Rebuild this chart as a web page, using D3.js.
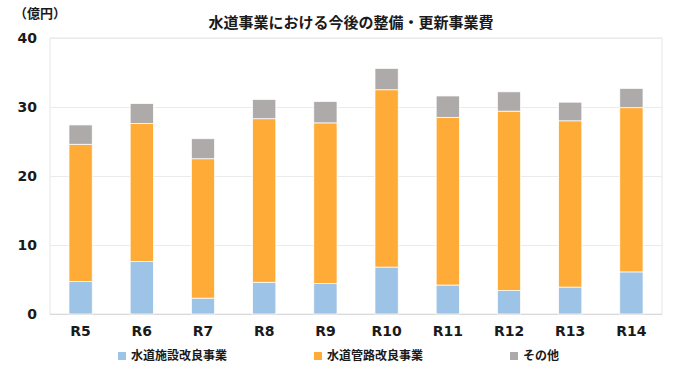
<!DOCTYPE html>
<html lang="ja">
<head>
    <meta charset="UTF-8">
    <title>水道事業における今後の整備・更新事業費</title>
    <style>
        body { margin: 0; background: #fff; }
        text { font-family: "Noto Sans CJK JP", sans-serif; fill: #1a1a1a; }
        .tick text { font-family: "DejaVu Sans", sans-serif; font-weight: bold; font-size: 14px; }
        .tick line, .domain { display: none; }
        .title { font-size: 15px; font-weight: bold; }
        .unit { font-size: 13px; font-weight: bold; }
        .legend text { font-size: 12px; font-weight: bold; }
    </style>
</head>
<body>
    <svg width="690" height="377"></svg>

    <script src="https://d3js.org/d3.v7.min.js"></script>
    <script>

        // Data (億円)
        const years = ['R5', 'R6', 'R7', 'R8', 'R9', 'R10', 'R11', 'R12', 'R13', 'R14'];
        const facility = [4.7, 7.6, 2.3, 4.6, 4.4, 6.8, 4.2, 3.4, 3.9, 6.1];
        const pipeline = [19.9, 20.0, 20.2, 23.7, 23.3, 25.7, 24.3, 26.0, 24.1, 23.8];
        const others = [2.8, 2.9, 2.9, 2.8, 3.1, 3.1, 3.1, 2.8, 2.7, 2.8];
        const yTicks = [0, 10, 20, 30, 40];

        const seriesNames = ['水道施設改良事業', '水道管路改良事業', 'その他'];
        const seriesColors = ['#9DC3E6', '#FFAB38', '#AEAAAA'];

        const svg = d3.select('svg');
        const plot = { left: 50, right: 662, top: 38, bottom: 314 };

        const rows = years.map(function (y, i) {
            return { year: y, s0: facility[i], s1: pipeline[i], s2: others[i] };
        });

        const stack = d3.stack().keys(['s0', 's1', 's2']);
        const layers = stack(rows);

        const x = d3.scaleBand()
            .domain(years)
            .range([plot.left, plot.right])
            .paddingInner(0.62)
            .paddingOuter(0.31);

        const y = d3.scaleLinear()
            .domain([0, 40])
            .range([plot.bottom, plot.top]);

        // plot area frame
        svg.append('rect')
            .attr('x', plot.left)
            .attr('y', plot.top)
            .attr('width', plot.right - plot.left)
            .attr('height', plot.bottom - plot.top)
            .attr('fill', 'none')
            .attr('stroke', '#E6E6E6');

        // gridlines
        svg.append('g')
            .selectAll('line')
            .data(yTicks)
            .join('line')
            .attr('x1', plot.left)
            .attr('x2', plot.right)
            .attr('y1', function (d) { return y(d) + 0.5; })
            .attr('y2', function (d) { return y(d) + 0.5; })
            .attr('stroke', function (d) { return d === 0 ? '#D9D9D9' : '#EBEBEB'; });

        // y axis labels
        svg.append('g')
            .attr('transform', 'translate(' + (plot.left - 13) + ',0)')
            .call(d3.axisLeft(y).tickValues(yTicks).tickSize(0).tickPadding(0));

        // x axis labels
        svg.append('g')
            .attr('transform', 'translate(0,' + (plot.bottom + 12) + ')')
            .call(d3.axisBottom(x).tickSize(0).tickPadding(0));

        // stacked bars
        svg.append('g')
            .selectAll('g')
            .data(layers)
            .join('g')
            .attr('fill', function (d, i) { return seriesColors[i]; })
            .selectAll('rect')
            .data(function (d) { return d; })
            .join('rect')
            .attr('x', function (d) { return x(d.data.year); })
            .attr('y', function (d) { return y(d[1]); })
            .attr('width', x.bandwidth())
            .attr('height', function (d) { return y(d[0]) - y(d[1]); })
            .attr('stroke', '#fff')
            .attr('stroke-width', 0.75);

        // title and unit
        svg.append('text')
            .attr('class', 'title')
            .attr('x', 351)
            .attr('y', 28)
            .attr('text-anchor', 'middle')
            .text('水道事業における今後の整備・更新事業費');

        svg.append('text')
            .attr('class', 'unit')
            .attr('x', 14)
            .attr('y', 18)
            .text('（億円）');

        // legend
        const legend = svg.append('g')
            .attr('class', 'legend')
            .selectAll('g')
            .data(seriesNames)
            .join('g')
            .attr('transform', function (d, i) {
                return 'translate(' + (118 + i * 196) + ',352)';
            });

        legend.append('rect')
            .attr('width', 8)
            .attr('height', 8)
            .attr('fill', function (d, i) { return seriesColors[i]; });

        legend.append('text')
            .attr('x', 13)
            .attr('y', 8)
            .text(function (d) { return d; });

    </script>
</body>
</html>
